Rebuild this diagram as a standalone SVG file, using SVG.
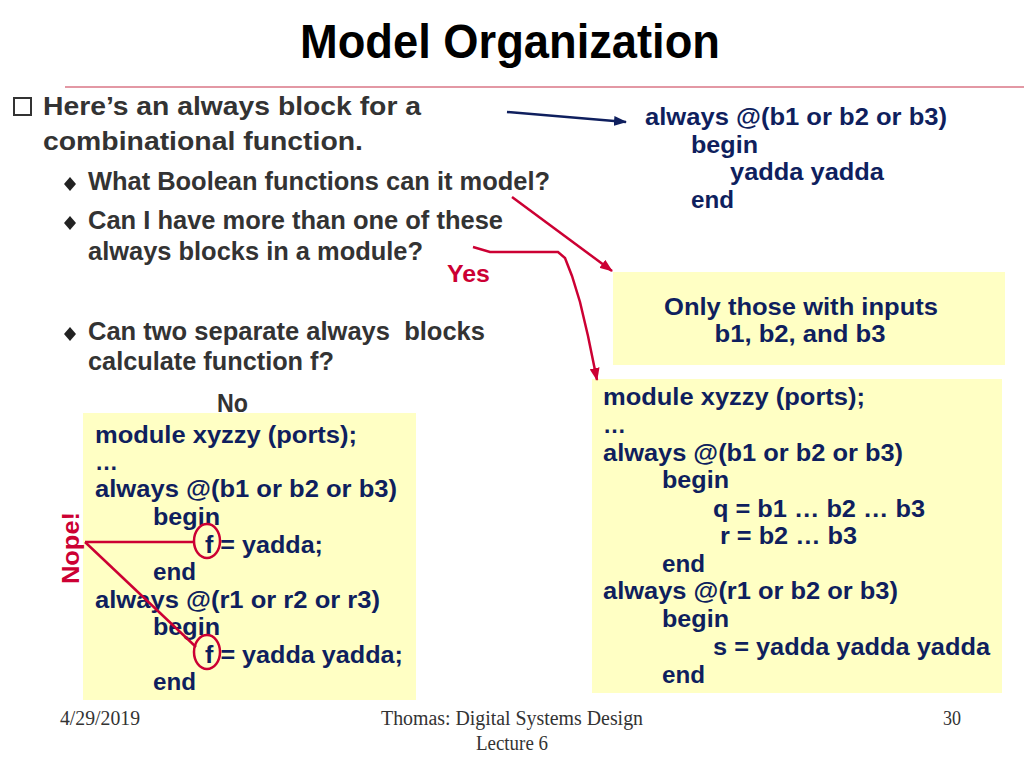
<svg xmlns="http://www.w3.org/2000/svg" width="1024" height="768" viewBox="0 0 1024 768">
<defs>
<style>
.t{font-family:"Liberation Sans",Arial,sans-serif;font-weight:bold}
.b{fill:#333333;font-size:25px}
.c{fill:#0f1f5e;font-size:23px}
.r{fill:#cc0033}
.f{font-family:"Liberation Serif","Times New Roman",serif;font-size:20px;fill:#333333}
.box{fill:#ffffc4}
.rl{stroke:#cc0033;stroke-width:2.5;fill:none}
.nl{stroke:#0f1f5e;stroke-width:2.5;fill:none}
</style>
<marker id="ar" markerUnits="userSpaceOnUse" markerWidth="14" markerHeight="10" refX="12" refY="5" orient="auto"><path d="M0,0 L13,5 L0,10 z" fill="#cc0033"/></marker>
<marker id="an" markerUnits="userSpaceOnUse" markerWidth="14" markerHeight="10" refX="12" refY="5" orient="auto"><path d="M0,0 L13,5 L0,10 z" fill="#0f1f5e"/></marker>
</defs>
<rect width="1024" height="768" fill="#ffffff"/>

<g id="title">
<text class="t" x="300" y="58" font-size="49" fill="#000" textLength="420" lengthAdjust="spacingAndGlyphs">Model Organization</text>
<line x1="65" y1="87" x2="1024" y2="87" stroke="#c8324b" stroke-width="1.2"/>
</g>

<g id="bullets">
<rect x="14" y="98" width="17" height="17" fill="none" stroke="#333" stroke-width="2"/>
<text class="t b" x="43" y="115" font-size="26" textLength="378" lengthAdjust="spacingAndGlyphs">Here’s an always block for a</text>
<text class="t b" x="43" y="150" font-size="26" textLength="320" lengthAdjust="spacingAndGlyphs">combinational function.</text>
<polygon points="70,177 76,184 70,191 64,184" fill="#222"/>
<text class="t b" x="88" y="190" textLength="462" lengthAdjust="spacingAndGlyphs">What Boolean functions can it model?</text>
<polygon points="70,216 76,223 70,230 64,223" fill="#222"/>
<text class="t b" x="88" y="229" textLength="415" lengthAdjust="spacingAndGlyphs">Can I have more than one of these</text>
<text class="t b" x="88" y="260" textLength="335" lengthAdjust="spacingAndGlyphs">always blocks in a module?</text>
<polygon points="70,327 76,334 70,341 64,334" fill="#222"/>
<text class="t b" x="88" y="340" textLength="397" lengthAdjust="spacingAndGlyphs" style="white-space:pre">Can two separate always  blocks</text>
<text class="t b" x="88" y="370" textLength="246" lengthAdjust="spacingAndGlyphs">calculate function f?</text>
<text class="t r" x="447" y="282" font-size="24" textLength="43" lengthAdjust="spacingAndGlyphs">Yes</text>
<text class="t b" x="217" y="412" font-size="24" textLength="31" lengthAdjust="spacingAndGlyphs">No</text>
</g>

<g id="code-top">
<text class="t c" x="645" y="125" textLength="302" lengthAdjust="spacingAndGlyphs">always @(b1 or b2 or b3)</text>
<text class="t c" x="691" y="153" textLength="67" lengthAdjust="spacingAndGlyphs">begin</text>
<text class="t c" x="730" y="180" textLength="154" lengthAdjust="spacingAndGlyphs">yadda yadda</text>
<text class="t c" x="691" y="208" textLength="43" lengthAdjust="spacingAndGlyphs">end</text>
</g>

<g id="box-inputs">
<rect class="box" x="613" y="272" width="392" height="93"/>
<text class="t c" x="801" y="315" text-anchor="middle" textLength="274" lengthAdjust="spacingAndGlyphs">Only those with inputs</text>
<text class="t c" x="800" y="342" text-anchor="middle" textLength="171" lengthAdjust="spacingAndGlyphs">b1, b2, and b3</text>
</g>

<g id="box-right">
<rect class="box" x="592" y="379" width="410" height="314"/>
<text class="t c" x="603" y="405" textLength="262" lengthAdjust="spacingAndGlyphs">module xyzzy (ports);</text>
<text class="t c" x="603" y="433" textLength="23" lengthAdjust="spacingAndGlyphs">…</text>
<text class="t c" x="603" y="461" textLength="300" lengthAdjust="spacingAndGlyphs">always @(b1 or b2 or b3)</text>
<text class="t c" x="662" y="488" textLength="67" lengthAdjust="spacingAndGlyphs">begin</text>
<text class="t c" x="713" y="517" textLength="212" lengthAdjust="spacingAndGlyphs">q = b1 … b2 … b3</text>
<text class="t c" x="720" y="544" textLength="137" lengthAdjust="spacingAndGlyphs">r = b2 … b3</text>
<text class="t c" x="662" y="572" textLength="43" lengthAdjust="spacingAndGlyphs">end</text>
<text class="t c" x="603" y="599" textLength="295" lengthAdjust="spacingAndGlyphs">always @(r1 or b2 or b3)</text>
<text class="t c" x="662" y="627" textLength="67" lengthAdjust="spacingAndGlyphs">begin</text>
<text class="t c" x="713" y="655" textLength="277" lengthAdjust="spacingAndGlyphs">s = yadda yadda yadda</text>
<text class="t c" x="662" y="683" textLength="43" lengthAdjust="spacingAndGlyphs">end</text>
</g>

<g id="box-left">
<rect class="box" x="83" y="413" width="333" height="287"/>
<text class="t c" x="95" y="443" textLength="262" lengthAdjust="spacingAndGlyphs">module xyzzy (ports);</text>
<text class="t c" x="95" y="470" textLength="23" lengthAdjust="spacingAndGlyphs">…</text>
<text class="t c" x="95" y="497" textLength="302" lengthAdjust="spacingAndGlyphs">always @(b1 or b2 or b3)</text>
<text class="t c" x="153" y="525" textLength="67" lengthAdjust="spacingAndGlyphs">begin</text>
<text class="t c" x="205" y="553" textLength="118" lengthAdjust="spacingAndGlyphs">f = yadda;</text>
<text class="t c" x="153" y="580" textLength="43" lengthAdjust="spacingAndGlyphs">end</text>
<text class="t c" x="95" y="608" textLength="285" lengthAdjust="spacingAndGlyphs">always @(r1 or r2 or r3)</text>
<text class="t c" x="153" y="635" textLength="67" lengthAdjust="spacingAndGlyphs">begin</text>
<text class="t c" x="205" y="663" textLength="198" lengthAdjust="spacingAndGlyphs">f = yadda yadda;</text>
<text class="t c" x="153" y="690" textLength="43" lengthAdjust="spacingAndGlyphs">end</text>
</g>

<g id="nope">
<text class="t r" font-size="24" transform="translate(79,548) rotate(-90)" text-anchor="middle" textLength="72" lengthAdjust="spacingAndGlyphs">Nope!</text>
<ellipse class="rl" cx="207" cy="541" rx="13" ry="17"/>
<ellipse class="rl" cx="207" cy="652" rx="13" ry="17"/>
</g>

<g id="connectors">
<line class="nl" x1="507" y1="112" x2="626" y2="122" marker-end="url(#an)"/>
<line class="rl" x1="512" y1="197" x2="612" y2="271" marker-end="url(#ar)"/>
<polyline class="rl" points="473,247 490,252 558,252 565,258 572,276 580,302 588,336 597,380" marker-end="url(#ar)"/>
<line class="rl" x1="85" y1="542" x2="194" y2="542"/>
<line class="rl" x1="85" y1="542" x2="196" y2="647"/>
</g>

<g id="footer">
<text class="f" x="60" y="725" textLength="80" lengthAdjust="spacingAndGlyphs">4/29/2019</text>
<text class="f" x="512" y="725" text-anchor="middle" textLength="262" lengthAdjust="spacingAndGlyphs">Thomas: Digital Systems Design</text>
<text class="f" x="512" y="750" text-anchor="middle" textLength="72" lengthAdjust="spacingAndGlyphs">Lecture 6</text>
<text class="f" x="943" y="725" textLength="18" lengthAdjust="spacingAndGlyphs">30</text>
</g>
</svg>
